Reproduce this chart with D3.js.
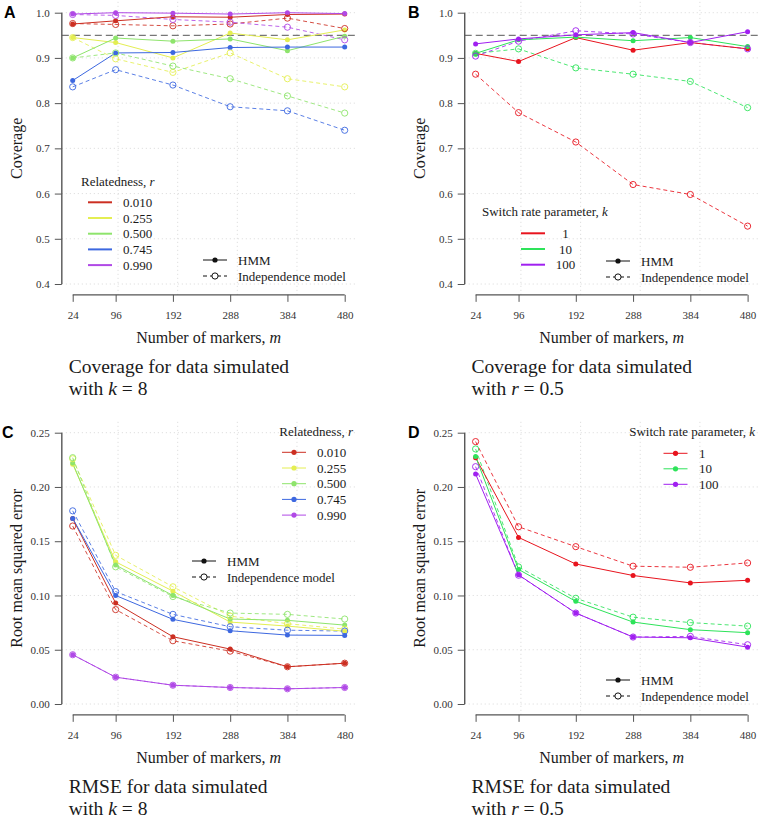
<!DOCTYPE html>
<html><head><meta charset="utf-8">
<script src="https://cdn.jsdelivr.net/npm/d3@7"></script>
<style>
body{margin:0;background:#fff;}
</style></head>
<body><svg id="chart" width="760" height="819"></svg>
<script>
// ---------- data ----------
const markers = [24, 96, 192, 288, 384, 480];
const gridMarkers = [100, 200, 300, 400];
const coverageTicks = [0.4, 0.5, 0.6, 0.7, 0.8, 0.9, 1.0];
const rmseTicks = [0.00, 0.05, 0.10, 0.15, 0.20, 0.25];
const relatedness = ["0.010", "0.255", "0.500", "0.745", "0.990"];
const switchRates = ["1", "10", "100"];
const relColors = ["#cc2f22", "#e4ee52", "#8ee46c", "#3d68e0", "#b049e6"];
const kColors = ["#e8141e", "#2ee35a", "#a020f0"];
const nominalCoverage = 0.95;

// Panel A: coverage, k = 8 (rows = relatedness)
const covA_hmm = [
  [0.975, 0.982, 0.991, 0.990, 0.996, 0.997],
  [0.945, 0.934, 0.900, 0.955, 0.940, 0.962],
  [0.900, 0.944, 0.937, 0.942, 0.916, 0.948],
  [0.850, 0.911, 0.912, 0.923, 0.924, 0.924],
  [0.997, 1.000, 0.999, 0.997, 1.000, 0.998]
];
const covA_ind = [
  [0.976, 0.974, 0.971, 0.975, 0.988, 0.965],
  [0.945, 0.898, 0.868, 0.911, 0.854, 0.836],
  [0.900, 0.911, 0.882, 0.854, 0.816, 0.778],
  [0.836, 0.874, 0.840, 0.792, 0.783, 0.740],
  [0.996, 0.994, 0.985, 0.979, 0.968, 0.940]
];
// Panel B: coverage, r = 0.5 (rows = k)
const covB_hmm = [
  [0.910, 0.892, 0.945, 0.917, 0.934, 0.920],
  [0.910, 0.940, 0.946, 0.938, 0.945, 0.925],
  [0.931, 0.942, 0.951, 0.956, 0.934, 0.958]
];
const covB_ind = [
  [0.864, 0.779, 0.714, 0.620, 0.598, 0.528],
  [0.910, 0.920, 0.878, 0.864, 0.848, 0.790],
  [0.904, 0.937, 0.960, 0.953, 0.934, 0.920]
];
// Panel C: RMSE, k = 8
const rmseC_hmm = [
  [0.171, 0.093, 0.062, 0.0506, 0.0343, 0.0376],
  [0.221, 0.131, 0.104, 0.0755, 0.0718, 0.067],
  [0.222, 0.128, 0.100, 0.0783, 0.0771, 0.0727],
  [0.171, 0.100, 0.078, 0.0675, 0.0635, 0.0632],
  [0.0454, 0.0247, 0.0173, 0.0152, 0.0140, 0.0152]
];
const rmseC_ind = [
  [0.164, 0.087, 0.0583, 0.0487, 0.0343, 0.0376],
  [0.226, 0.137, 0.108, 0.081, 0.074, 0.069],
  [0.227, 0.1264, 0.099, 0.0838, 0.0826, 0.0783],
  [0.178, 0.1036, 0.0826, 0.0712, 0.068, 0.0672],
  [0.0454, 0.0247, 0.0173, 0.0152, 0.0140, 0.0152]
];
// Panel D: RMSE, r = 0.5
const rmseD_hmm = [
  [0.227, 0.1535, 0.129, 0.1184, 0.1116, 0.114],
  [0.228, 0.124, 0.0946, 0.0755, 0.0685, 0.0657],
  [0.212, 0.119, 0.0838, 0.0617, 0.0610, 0.0524]
];
const rmseD_ind = [
  [0.2418, 0.1633, 0.145, 0.127, 0.126, 0.130],
  [0.235, 0.1263, 0.0974, 0.080, 0.075, 0.0718],
  [0.2187, 0.1187, 0.0838, 0.0617, 0.0623, 0.0546]
];

// ---------- drawing ----------
const SERIF = '"Liberation Serif", "Times New Roman", Times, serif';
const svg = d3.select("#chart");

function txt(sel) { return sel.style("font-family", SERIF).style("fill", "#1a1a1a"); }

function panel(o) {
  const g = svg.append("g");
  const x = d3.scaleLinear().domain([24, 480]).range([o.x0, o.x0 + 272]);
  const y = d3.scaleLinear().domain([o.ticks[0], o.ticks[o.ticks.length - 1]]).range([o.y0 + 271.3, o.y0]);
  const ex = 18.24 * 272 / 456;
  const ey = 0.04 * 271.3;
  const left = o.x0 - ex, right = o.x0 + 272 + ex, top = o.y0 - ey, bottom = o.y0 + 271.3 + ey;

  // grid
  g.selectAll(".hg").data(o.ticks).join("line")
    .attr("x1", left).attr("x2", right).attr("y1", d => y(d)).attr("y2", d => y(d))
    .attr("stroke", "#cfcfcf").attr("stroke-width", 0.8).attr("stroke-dasharray", "1,3");
  g.selectAll(".vg").data(gridMarkers).join("line")
    .attr("x1", d => x(d)).attr("x2", d => x(d)).attr("y1", top).attr("y2", bottom)
    .attr("stroke", "#cfcfcf").attr("stroke-width", 0.8).attr("stroke-dasharray", "1,3");

  // reference line
  if (o.ref != null) {
    g.append("line").attr("x1", left).attr("x2", right)
      .attr("y1", y(o.ref)).attr("y2", y(o.ref))
      .attr("stroke", "#555").attr("stroke-width", 1).attr("stroke-dasharray", "7,4");
  }

  // axes
  const xa = g.append("g").attr("transform", `translate(0,${bottom})`)
    .call(d3.axisBottom(x).tickValues(markers).tickSize(7).tickPadding(9).tickFormat(d3.format("d")));
  const ya = g.append("g").attr("transform", `translate(${left},0)`)
    .call(d3.axisLeft(y).tickValues(o.ticks).tickSize(7).tickPadding(5).tickFormat(d3.format(o.fmt)));
  [xa, ya].forEach(a => {
    a.attr("font-family", null).attr("font-size", null);
    a.select(".domain").attr("stroke", "#555").attr("stroke-width", 1.4);
    a.selectAll(".tick line").attr("stroke", "#555").attr("stroke-width", 1);
    txt(a.selectAll(".tick text")).style("font-size", "11px").style("fill", "#333");
  });
  xa.select(".domain").attr("d", `M${x(24)},0H${x(480)}`);
  ya.select(".domain").attr("d", `M0,${y(o.ticks[0])}V${y(o.ticks[o.ticks.length - 1])}`);

  // axis titles
  txt(g.append("text")).attr("x", (left + right) / 2).attr("y", bottom + 48.3)
    .attr("text-anchor", "middle").style("font-size", "16px")
    .call(t => { t.append("tspan").text("Number of markers, "); t.append("tspan").attr("font-style", "italic").text("m"); });
  txt(g.append("text")).attr("transform", `translate(${left - 40},${(y(o.ticks[0]) + y(o.ticks[o.ticks.length - 1])) / 2}) rotate(-90)`)
    .attr("text-anchor", "middle").style("font-size", "16px").text(o.ylab);

  // panel letter
  svg.append("text").attr("x", o.letterX).attr("y", o.y0 + 5.5).style("font-size", "16px")
    .attr("font-weight", "bold").style("font-family", '"Liberation Sans", Arial, sans-serif').text(o.letter);

  // title (two lines)
  const tt = txt(g.append("text")).attr("x", o.x0 - 4).attr("y", bottom + 78.3).style("font-size", "19.5px");
  tt.append("tspan").text(o.title1);
  const t2 = txt(g.append("text")).attr("x", o.x0 - 4).attr("y", bottom + 100).style("font-size", "19.5px");
  t2.append("tspan").text("with ");
  t2.append("tspan").attr("font-style", "italic").text(o.param);
  t2.append("tspan").text(" = " + o.paramVal);

  const line = d3.line().x((d, i) => x(markers[i])).y(d => y(d));
  o.ind.forEach((s, j) => {
    g.append("path").attr("d", line(s)).attr("fill", "none")
      .attr("stroke", o.colors[j]).attr("stroke-opacity", 0.85).attr("stroke-width", 1)
      .attr("stroke-dasharray", "4,3");
  });
  o.hmm.forEach((s, j) => {
    g.append("path").attr("d", line(s)).attr("fill", "none")
      .attr("stroke", o.colors[j]).attr("stroke-width", 1);
  });
  o.hmm.forEach((s, j) => {
    g.selectAll(null).data(s).join("circle")
      .attr("cx", (d, i) => x(markers[i])).attr("cy", d => y(d)).attr("r", 2.5)
      .attr("fill", o.colors[j]);
  });
  o.ind.forEach((s, j) => {
    g.selectAll(null).data(s).join("circle")
      .attr("cx", (d, i) => x(markers[i])).attr("cy", d => y(d)).attr("r", 3.1)
      .attr("fill", "none").attr("stroke", o.colors[j]).attr("stroke-opacity", 0.9).attr("stroke-width", 1);
  });

  // colour legend
  const L = o.legend;
  const lt = txt(g.append("text")).attr("x", L.titleX).attr("y", L.titleY).style("font-size", "13px")
    .attr("text-anchor", L.titleAnchor);
  lt.append("tspan").text(L.title + ", ");
  lt.append("tspan").attr("font-style", "italic").text(L.sym);
  L.labels.forEach((lab, j) => {
    const yy = L.y0 + j * L.dy;
    g.append("line").attr("x1", L.lx).attr("x2", L.lx + 24).attr("y1", yy).attr("y2", yy)
      .attr("stroke", o.colors[j]).attr("stroke-width", L.points ? 1 : 2);
    if (L.points) g.append("circle").attr("cx", L.lx + 12).attr("cy", yy).attr("r", 2.6).attr("fill", o.colors[j]);
    txt(g.append("text")).attr("x", L.tx).attr("y", yy + 4.5).style("font-size", "13px")
      .attr("text-anchor", L.textAnchor || "start").text(lab);
  });
  // model legend
  const M = o.model;
  g.append("line").attr("x1", M.lx).attr("x2", M.lx + 24).attr("y1", M.y).attr("y2", M.y).attr("stroke", "#111");
  g.append("circle").attr("cx", M.lx + 12).attr("cy", M.y).attr("r", 2.6).attr("fill", "#111");
  g.append("line").attr("x1", M.lx).attr("x2", M.lx + 24).attr("y1", M.y + 16).attr("y2", M.y + 16)
    .attr("stroke", "#111").attr("stroke-dasharray", "4,3");
  g.append("circle").attr("cx", M.lx + 12).attr("cy", M.y + 16).attr("r", 3.1)
    .attr("fill", "#fff").attr("stroke", "#111");
  txt(g.append("text")).attr("x", M.lx + 35).attr("y", M.y + 4.5).style("font-size", "13px").text("HMM");
  txt(g.append("text")).attr("x", M.lx + 35).attr("y", M.y + 20.5).style("font-size", "13px").text("Independence model");
}

panel({
  x0: 72.7, y0: 12.7, ticks: coverageTicks, fmt: ".1f", ref: nominalCoverage,
  ylab: "Coverage", letter: "A", letterX: 4,
  title1: "Coverage for data simulated", param: "k", paramVal: "8",
  hmm: covA_hmm, ind: covA_ind, colors: relColors,
  legend: { title: "Relatedness", sym: "r", titleX: 81, titleY: 186, titleAnchor: "start",
            labels: relatedness, y0: 202.3, dy: 15.7, lx: 88, tx: 123, points: false },
  model: { lx: 203, y: 260 }
});
panel({
  x0: 475.6, y0: 12.7, ticks: coverageTicks, fmt: ".1f", ref: nominalCoverage,
  ylab: "Coverage", letter: "B", letterX: 408,
  title1: "Coverage for data simulated", param: "r", paramVal: "0.5",
  hmm: covB_hmm, ind: covB_ind, colors: kColors,
  legend: { title: "Switch rate parameter", sym: "k", titleX: 482, titleY: 215.5, titleAnchor: "start",
            labels: switchRates, y0: 233.3, dy: 15.7, lx: 521, tx: 565.5, textAnchor: "middle", points: false },
  model: { lx: 606, y: 261 }
});
panel({
  x0: 72.7, y0: 432.7, ticks: rmseTicks, fmt: ".2f", ref: null,
  ylab: "Root mean squared error", letter: "C", letterX: 2,
  title1: "RMSE for data simulated", param: "k", paramVal: "8",
  hmm: rmseC_hmm, ind: rmseC_ind, colors: relColors,
  legend: { title: "Relatedness", sym: "r", titleX: 353, titleY: 436, titleAnchor: "end",
            labels: relatedness, y0: 452.3, dy: 15.7, lx: 282, tx: 317, points: true },
  model: { lx: 192, y: 561 }
});
panel({
  x0: 475.6, y0: 432.7, ticks: rmseTicks, fmt: ".2f", ref: null,
  ylab: "Root mean squared error", letter: "D", letterX: 408,
  title1: "RMSE for data simulated", param: "r", paramVal: "0.5",
  hmm: rmseD_hmm, ind: rmseD_ind, colors: kColors,
  legend: { title: "Switch rate parameter", sym: "k", titleX: 755, titleY: 436, titleAnchor: "end",
            labels: switchRates, y0: 453.3, dy: 15.5, lx: 663.5, tx: 699, points: true },
  model: { lx: 606, y: 680 }
});
</script></body></html>
